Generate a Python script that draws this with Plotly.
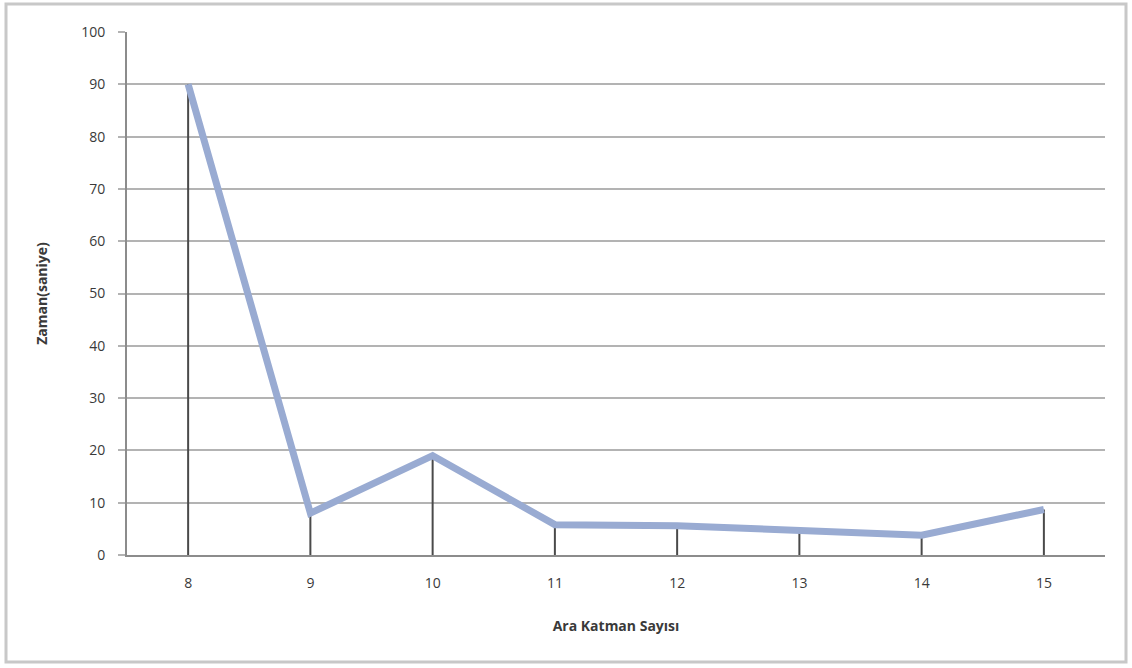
import plotly.graph_objects as go

categories = ["8", "9", "10", "11", "12", "13", "14", "15"]
zaman = [90, 8, 19, 5.8, 5.6, 4.8, 3.8, 8.7]
y_ticks = list(range(0, 101, 10))

drop_x, drop_y = [], []
for c, v in zip(categories, zaman):
    drop_x += [c, c, None]
    drop_y += [0, v, None]

fig = go.Figure()
fig.add_trace(go.Scatter(x=drop_x, y=drop_y, mode="lines",
                         line=dict(color="#4a4a4a", width=2), hoverinfo="skip",
                         showlegend=False))
fig.add_trace(go.Scatter(x=categories, y=zaman, mode="lines",
                         line=dict(color="#99abd2", width=7), showlegend=False))

fig.update_layout(
    width=1132, height=668,
    margin=dict(l=127, r=27, t=32, b=113),
    paper_bgcolor="white", plot_bgcolor="white",
    font=dict(family="Open Sans, Liberation Sans, sans-serif", color="#3a3a3a", size=14),
    xaxis=dict(type="category", range=[-0.5, 7.5], showgrid=False,
               showline=True, linecolor="#8c8c8c", linewidth=2,
               ticks="", ticklabelstandoff=14, tickfont=dict(size=14),
               title=dict(text="<b>Ara Katman Sayısı</b>", font=dict(size=14), standoff=30)),
    yaxis=dict(range=[0, 100], tickvals=y_ticks, showgrid=True,
               gridcolor="#b3b3b3", gridwidth=2, zeroline=False,
               showline=True, linecolor="#8c8c8c", linewidth=2,
               ticks="outside", ticklen=7, tickcolor="#b3b3b3", tickwidth=2,
               ticklabelstandoff=10, tickfont=dict(size=14),
               title=dict(text="<b>Zaman(saniye)</b>", font=dict(size=14), standoff=30)),
    shapes=[dict(type="rect", xref="paper", yref="paper",
                 x0=(6 - 127) / 978, x1=(1126 - 127) / 978,
                 y0=(555 - 662) / 523, y1=(555 - 4) / 523,
                 line=dict(color="#c8c8c8", width=3), layer="below")],
)

fig.write_html("out.html", config={"displayModeBar": False},
               post_script="document.body.style.margin='0';document.body.style.overflow='hidden';")
